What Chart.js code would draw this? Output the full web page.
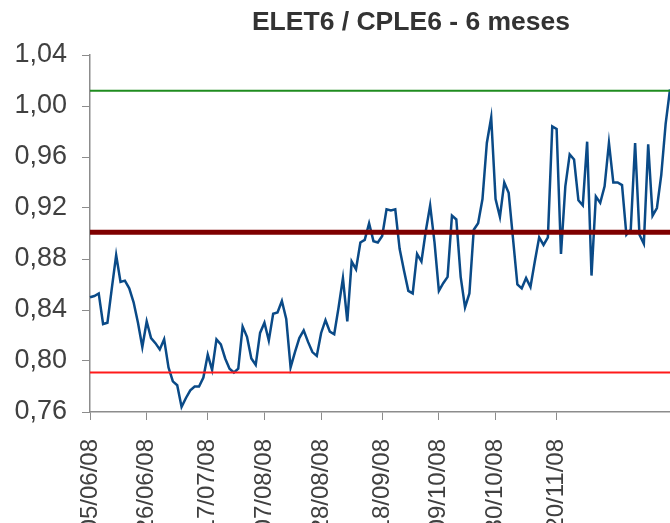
<!DOCTYPE html>
<html>
<head>
<meta charset="utf-8">
<script src="https://cdn.jsdelivr.net/npm/chart.js@4.4.0/dist/chart.umd.min.js"></script>
<style>
  html, body { margin: 0; padding: 0; background: #fff; }
  #wrap { width: 670px; height: 523px; position: relative; }
</style>
</head>
<body>
<div id="wrap"><canvas id="myChart"></canvas></div>
<script>
const chartTitle = 'ELET6 / CPLE6 - 6 meses'

// datas mostradas no eixo x e o pregão (índice) onde cada uma aparece
const tickDates = ['05/06/08', '26/06/08', '17/07/08', '07/08/08', '28/08/08', '18/09/08', '09/10/08', '30/10/08', '20/11/08']
const tickPoints = [0, 13, 27, 40, 53, 67, 80, 93, 107]

// relação ELET6 / CPLE6, um valor por pregão
const ratio = [
  0.850, 0.851, 0.853, 0.829, 0.830, 0.857, 0.883, 0.862, 0.863, 0.857,
  0.846, 0.830, 0.811, 0.831, 0.818, 0.814, 0.809, 0.817, 0.795, 0.784,
  0.781, 0.764, 0.771, 0.777, 0.780, 0.780, 0.787, 0.805, 0.793, 0.817,
  0.813, 0.802, 0.794, 0.791, 0.794, 0.827, 0.819, 0.802, 0.797, 0.822,
  0.830, 0.816, 0.837, 0.838, 0.847, 0.833, 0.795, 0.807, 0.818, 0.824,
  0.815, 0.807, 0.804, 0.822, 0.832, 0.823, 0.821, 0.842, 0.865, 0.831,
  0.878, 0.872, 0.893, 0.895, 0.908, 0.894, 0.893, 0.898, 0.919, 0.918,
  0.919, 0.888, 0.871, 0.855, 0.853, 0.884, 0.878, 0.902, 0.922, 0.893,
  0.855, 0.861, 0.866, 0.914, 0.911, 0.866, 0.842, 0.853, 0.903, 0.908,
  0.927, 0.971, 0.991, 0.927, 0.913, 0.940, 0.932, 0.896, 0.860, 0.857,
  0.865, 0.858, 0.878, 0.897, 0.891, 0.897, 0.984, 0.982, 0.884, 0.937,
  0.962, 0.958, 0.926, 0.922, 0.972, 0.867, 0.929, 0.924, 0.937, 0.971,
  0.940, 0.940, 0.938, 0.899, 0.903, 0.971, 0.899, 0.892, 0.970, 0.914,
  0.920, 0.946, 0.986, 1.013
]

// média e bandas
const upperBand = 1.012
const meanLevel = 0.901
const lowerBand = 0.791

const yTicks = [0.76, 0.80, 0.84, 0.88, 0.92, 0.96, 1.00, 1.04]

const categories = ratio.map((v, i) => {
  const k = tickPoints.indexOf(i)
  return k >= 0 ? tickDates[k] : ''
})

const font = '"Liberation Sans", Arial, sans-serif'

const titlePlugin = {
  id: 'chartTitle',
  afterDraw(chart) {
    const { ctx } = chart
    ctx.save()
    ctx.font = 'bold 26.5px ' + font
    ctx.fillStyle = '#333333'
    ctx.textAlign = 'center'
    ctx.textBaseline = 'middle'
    ctx.fillText(chartTitle, 411, 23)
    ctx.restore()
  }
}

const flat = (value, color, width) => ({
  data: categories.map(() => value),
  borderColor: color,
  borderWidth: width,
  pointRadius: 0,
  tension: 0,
  fill: false
})

const ctx = document.getElementById('myChart')
new Chart(ctx, {
  type: 'line',
  data: {
    labels: categories,
    datasets: [
      flat(upperBand, '#1f8c1f', 2),
      flat(meanLevel, '#7f0000', 5),
      flat(lowerBand, '#ff1a1a', 2),
      {
        data: ratio,
        borderColor: '#0a4a87',
        borderWidth: 2.5,
        pointRadius: 0,
        tension: 0,
        fill: false
      }
    ]
  },
  options: {
    responsive: true,
    maintainAspectRatio: false,
    animation: false,
    layout: { padding: { top: 55, right: 0, bottom: 0, left: 0 } },
    plugins: {
      legend: { display: false },
      title: { display: false },
      tooltip: { enabled: false }
    },
    scales: {
      x: {
        type: 'category',
        offset: false,
        afterBuildTicks: scale => {
          scale.ticks = scale.ticks.filter(t => categories[t.value] !== '')
        },
        afterFit: scale => { scale.height = 111 },
        grid: { drawOnChartArea: false, drawTicks: true, tickLength: 8, color: '#8c8c8c' },
        border: { display: true, color: '#8c8c8c', width: 1.5 },
        ticks: {
          autoSkip: false,
          minRotation: 90,
          maxRotation: 90,
          padding: 19,
          color: '#404040',
          font: { family: font, size: 24 }
        }
      },
      y: {
        min: 0.76,
        max: 1.04,
        afterBuildTicks: scale => {
          scale.ticks = yTicks.map(v => ({ value: v }))
        },
        afterFit: scale => { scale.width = 90 },
        grid: { drawOnChartArea: false, drawTicks: true, tickLength: 8, color: '#8c8c8c' },
        border: { display: true, color: '#8c8c8c', width: 1.5 },
        ticks: {
          padding: 15,
          color: '#404040',
          font: { family: font, size: 27 },
          callback: v => v.toFixed(2).replace('.', ',')
        }
      }
    }
  },
  plugins: [titlePlugin]
})
</script>
</body>
</html>
